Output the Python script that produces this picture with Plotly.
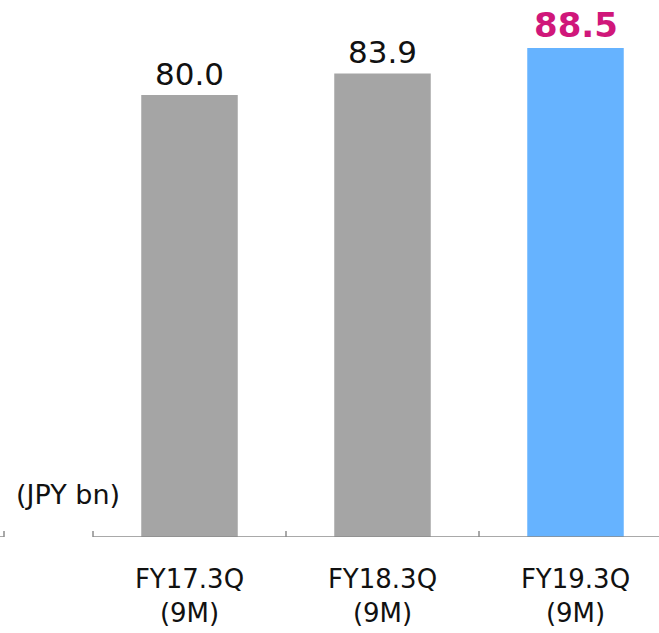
import plotly.graph_objects as go

categories = ["FY17.3Q<br>(9M)", "FY18.3Q<br>(9M)", "FY19.3Q<br>(9M)"]
values = [80.0, 83.9, 88.5]
value_labels = ["80.0", "83.9", "88.5"]
bar_colors = ["#A5A5A5", "#A5A5A5", "#66B3FF"]
label_colors = ["#111111", "#111111", "#D0177A"]
label_bold = [False, False, True]
unit_label = "(JPY bn)"

FONT = "DejaVu Sans"
W, H = 659, 633
BASE = 537
x0 = -0.5 - 93 / 193
x1 = x0 + W / 193
ymax = BASE / 5.525

fig = go.Figure()
fig.add_trace(go.Bar(
    x=list(range(len(values))), y=values,
    marker=dict(color=bar_colors, line=dict(width=0)),
    width=0.5, hoverinfo="skip",
))

for i, (v, t, c, b) in enumerate(zip(values, value_labels, label_colors, label_bold)):
    fig.add_annotation(
        x=i, y=v, xref="x", yref="y", text=f"<b>{t}</b>" if b else t,
        showarrow=False, yanchor="bottom", yshift=1,
        font=dict(family=FONT, size=34 if b else 31, color=c),
    )

fig.add_annotation(
    x=14 / W, y=(BASE - 494) / BASE, xref="paper", yref="paper", xanchor="left", yanchor="middle",
    text=unit_label, showarrow=False, font=dict(family=FONT, size=27, color="#111111"),
)

axis_color = "#8C8C8C"
fig.add_shape(type="line", xref="x", yref="y", x0=-0.5, x1=x1, y0=0, y1=0,
              line=dict(color=axis_color, width=1.5))
cx = x0 + 4 / 193
fig.add_shape(type="line", xref="x", yref="y", x0=x0, x1=cx, y0=0, y1=0,
              line=dict(color=axis_color, width=1.5))
fig.add_shape(type="line", xref="x", yref="y", x0=cx, x1=cx, y0=0, y1=6 / 5.525,
              line=dict(color=axis_color, width=1.5))

# boundary ticks
for b in [-0.5, 0.5, 1.5]:
    fig.add_shape(type="line", xref="x", yref="y", x0=b, x1=b, y0=0, y1=6 / 5.525,
                  line=dict(color=axis_color, width=1.5))

fig.update_layout(
    width=W, height=H, margin=dict(l=0, r=0, t=0, b=H - BASE),
    paper_bgcolor="white", plot_bgcolor="white", showlegend=False,
    font=dict(family=FONT, size=26, color="#111111"),
)
fig.update_xaxes(
    range=[x0, x1], tickmode="array", tickvals=list(range(len(values))), ticktext=categories,
    showline=False, showgrid=False, zeroline=False,
    ticks="", ticklabelstandoff=24, tickfont=dict(family=FONT, size=26, color="#111111"),
)
fig.update_yaxes(range=[0, ymax], visible=False)

fig.write_html("out.html", config={"displayModeBar": False},
               post_script="document.body.style.margin='0';")
